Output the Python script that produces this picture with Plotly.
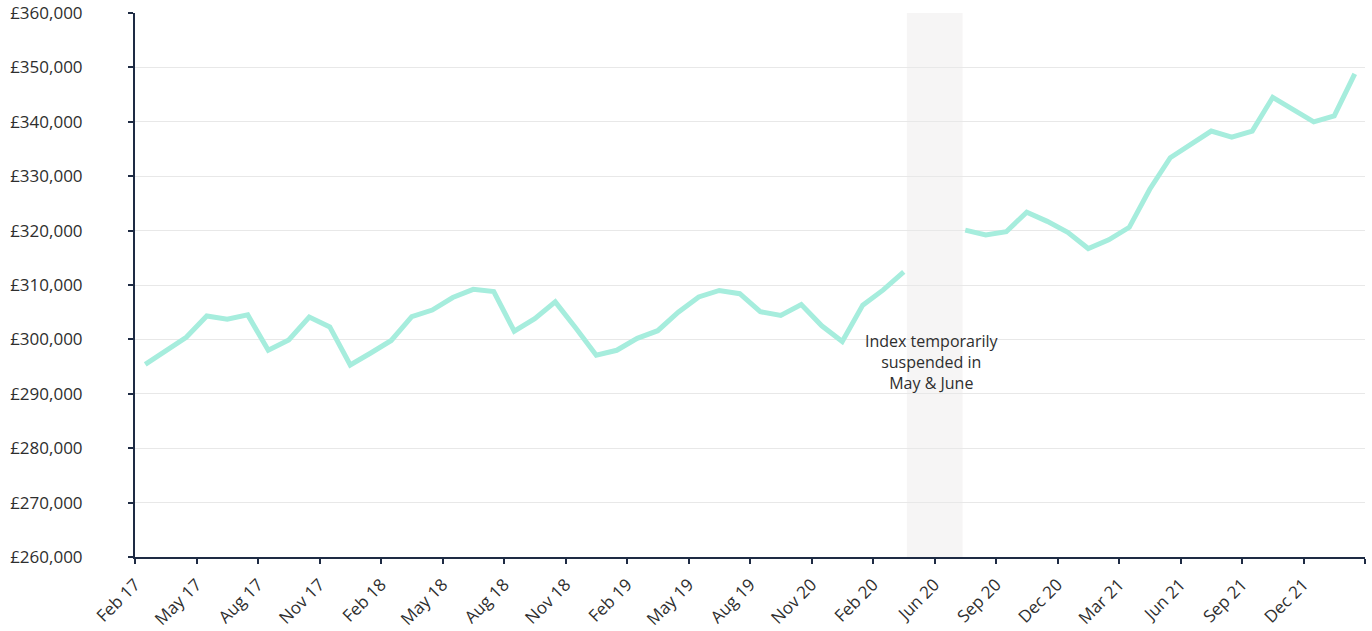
import plotly.graph_objects as go

# Monthly categories (Apr 20 not listed; May & Jun 20 suspended)
months = (
    [f"{m} 17" for m in ["Feb", "Mar", "Apr", "May", "Jun", "Jul", "Aug", "Sep", "Oct", "Nov", "Dec"]]
    + [f"{m} 18" for m in ["Jan", "Feb", "Mar", "Apr", "May", "Jun", "Jul", "Aug", "Sep", "Oct", "Nov", "Dec"]]
    + [f"{m} 19" for m in ["Jan", "Feb", "Mar", "Apr", "May", "Jun", "Jul", "Aug", "Sep", "Oct", "Nov", "Dec"]]
    + ["Jan 20", "Feb 20", "Mar 20", "May 20", "Jun 20"]
    + [f"{m} 20" for m in ["Jul", "Aug", "Sep", "Oct", "Nov", "Dec"]]
    + [f"{m} 21" for m in ["Jan", "Feb", "Mar", "Apr", "May", "Jun", "Jul", "Aug", "Sep", "Oct", "Nov", "Dec"]]
    + ["Jan 22", "Feb 22"]
)

prices = [
    295400, 298000, 300400, 304300, 303700, 304500, 298000, 299900, 304100, 302300,
    295300, 297500, 299800, 304200, 305400, 307700, 309200, 308800, 301500, 303800,
    306900, 302100, 297100, 298000, 300200, 301600, 305000, 307800, 309000, 308400,
    305100, 304400, 306400, 302500, 299600, 306300, 309100, 312400, None, None,
    320100, 319200, 319800, 323400, 321700, 319700, 316700, 318300, 320600, 327600,
    333400, 335900, 338300, 337200, 338300, 344500, 342300, 340000, 341100, 348800,
]

tick_labels = [
    "Feb 17", "May 17", "Aug 17", "Nov 17", "Feb 18", "May 18", "Aug 18", "Nov 18",
    "Feb 19", "May 19", "Aug 19", "Nov 20", "Feb 20", "Jun 20", "Sep 20", "Dec 20",
    "Mar 21", "Jun 21", "Sep 21", "Dec 21", "",
]

y_ticks = list(range(260000, 360001, 10000))

x_pos = [i + 0.5 for i in range(len(months))]
tick_pos = [3 * k for k in range(len(tick_labels))]

NAVY = "#1e2b44"
TEXT = "#2e2e2e"
FONT = "Open Sans"

fig = go.Figure()
fig.add_trace(go.Scatter(
    x=x_pos, y=prices, mode="lines",
    line=dict(color="#a6eddd", width=5),
    connectgaps=False, hoverinfo="skip", showlegend=False,
    customdata=months,
))

fig.add_shape(type="rect", xref="x", yref="paper", x0=37.65, x1=40.37, y0=0, y1=1,
              fillcolor="#f6f5f5", line=dict(width=0), layer="below")

fig.add_annotation(x=38.9, y=295800, xref="x", yref="y",
                   text="Index temporarily<br>suspended in<br>May &amp; June",
                   showarrow=False, font=dict(family=FONT, size=16, color=TEXT),
                   align="center")

fig.update_layout(
    width=1372, height=631,
    margin=dict(l=135, r=7, t=13, b=74),
    paper_bgcolor="white", plot_bgcolor="white",
    font=dict(family=FONT, color=TEXT),
    showlegend=False,
)
fig.update_xaxes(
    range=[0, 60], tickmode="array", tickvals=tick_pos, ticktext=tick_labels,
    tickangle=-45, tickfont=dict(size=17, color=TEXT, family=FONT),
    showline=True, linecolor=NAVY, linewidth=2,
    ticks="outside", ticklen=5, tickwidth=2, tickcolor=NAVY,
    ticklabelstandoff=4, ticklabeloverflow="allow",
    showgrid=False, zeroline=False, automargin=False,
)
fig.update_yaxes(
    range=[260000, 360000], tickmode="array", tickvals=y_ticks,
    ticktext=[f"£{v:,}" for v in y_ticks],
    tickfont=dict(size=17, color=TEXT, family=FONT),
    showline=True, linecolor=NAVY, linewidth=2,
    ticks="outside", ticklen=5, tickwidth=2, tickcolor=NAVY,
    ticklabelstandoff=42, ticklabeloverflow="allow",
    showgrid=True, gridcolor="#e8e8e8", gridwidth=1, zeroline=False,
    automargin=False,
)

fig.write_html("out.html", config={"displayModeBar": False},
               post_script="document.body.style.margin='0px';")
